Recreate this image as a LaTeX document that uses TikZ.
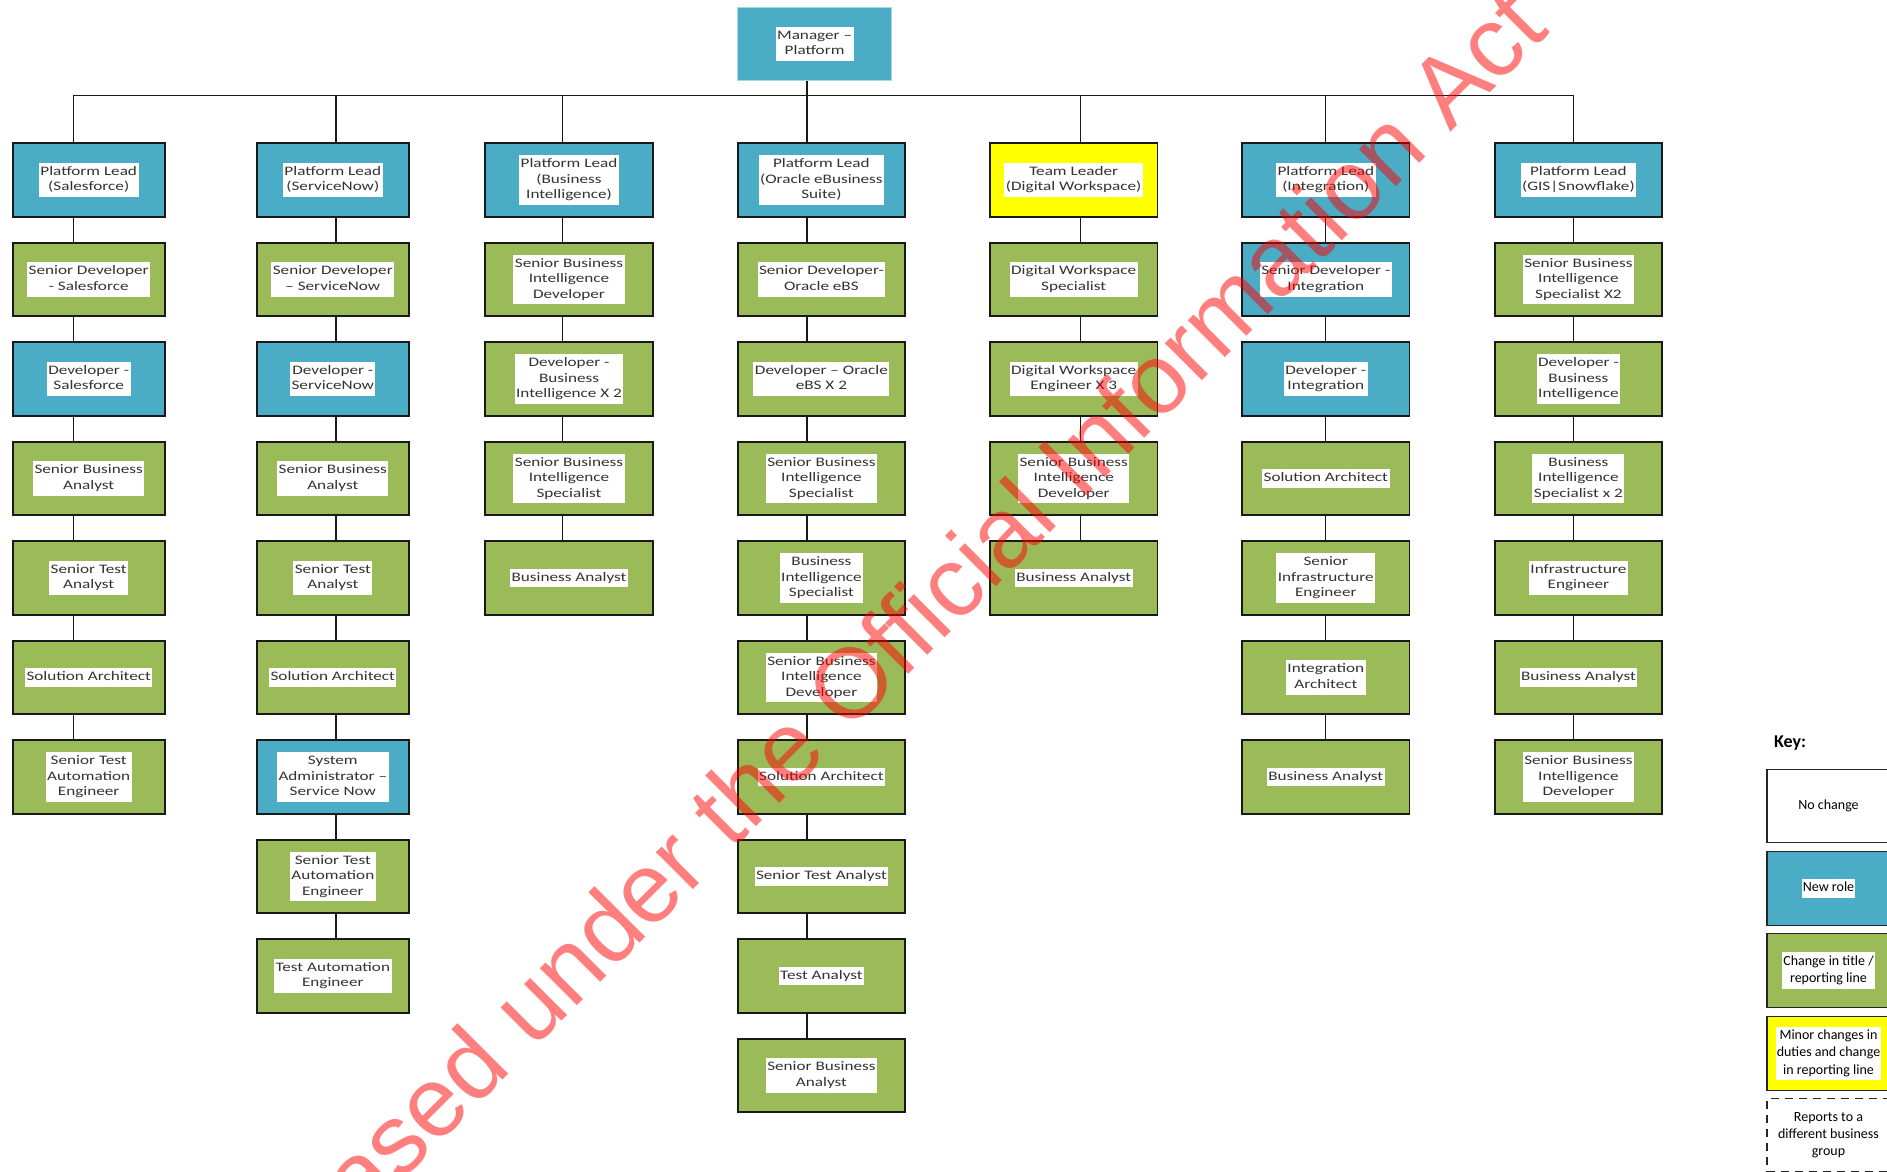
\documentclass[tikz,border=0pt]{standalone}
\usepackage{fontspec}
\setmainfont{Carlito}
\newfontfamily\boxfont{Carlito}[FakeStretch=1.32]
\newfontfamily\markfont{Liberation Sans}

\definecolor{roleblue}{HTML}{4BACC6}
\definecolor{rolegreen}{HTML}{9BBB59}
\definecolor{roleyellow}{HTML}{FFFF00}
\definecolor{mgrrim}{HTML}{A8D8E6}

% white label behind the text of a role box
\newcommand\boxlbl[1]{{\setlength\fboxsep{1.5pt}\colorbox{white}{\begin{tabular}{@{}c@{}}#1\end{tabular}}}}
\newcommand\keylbl[1]{{\setlength\fboxsep{1pt}\colorbox{white}{\begin{tabular}{@{}c@{}}#1\end{tabular}}}}

\tikzset{
  orgbox/.style={draw=black!90, line width=1.8pt, minimum height=73.5pt, inner sep=0pt,
    font=\boxfont\fontsize{13}{15.6}\selectfont, text=black!80},
  newrole/.style={orgbox, fill=roleblue},
  retitled/.style={orgbox, fill=rolegreen},
  minorchg/.style={orgbox, fill=roleyellow},
  narrowbox/.style={minimum width=152pt},
  widebox/.style={minimum width=167.5pt},
  link/.style={line width=1.6pt, draw=black!90},
  keybox/.style={draw=black!85, line width=1.3pt, minimum width=123pt, minimum height=73.5pt,
    inner sep=0pt, align=center, font=\fontsize{14}{17.3}\selectfont},
}

\begin{document}
\begin{tikzpicture}[x=1pt, y=-1pt]
\useasboundingbox (0,0) rectangle (1887,1172);
\fill[white] (0,0) rectangle (1887,1172);
\clip (0,0) rectangle (1887,1172);

% manager
\node[orgbox, fill=roleblue, draw=mgrrim, line width=1pt, minimum width=153.8pt, minimum height=72.7pt]
  (mgr) at (814.6,43.7) {\boxlbl{Manager –\\Platform}};

% reporting line of each column
\coordinate (xsf)  at (73.5,95.5);
\coordinate (xsn)  at (336,95.5);
\coordinate (xbi)  at (562.5,95.5);
\coordinate (xor)  at (807,95.5);
\coordinate (xdw)  at (1080.6,95.5);
\coordinate (xin)  at (1325.4,95.5);
\coordinate (xgis) at (1573.4,95.5);

% Salesforce
\node[newrole, narrowbox]  (sf1) at (88.7,180)   {\boxlbl{Platform Lead\\(Salesforce)}};
\node[retitled, narrowbox] (sf2) at (88.7,279.5) {\boxlbl{Senior Developer\\- Salesforce}};
\node[newrole, narrowbox]  (sf3) at (88.7,379)   {\boxlbl{Developer -\\Salesforce}};
\node[retitled, narrowbox] (sf4) at (88.7,478.5) {\boxlbl{Senior Business\\Analyst}};
\node[retitled, narrowbox] (sf5) at (88.7,578)   {\boxlbl{Senior Test\\Analyst}};
\node[retitled, narrowbox] (sf6) at (88.7,677.5) {\boxlbl{Solution Architect}};
\node[retitled, narrowbox] (sf7) at (88.7,777)   {\boxlbl{Senior Test\\Automation\\Engineer}};

% ServiceNow
\node[newrole, narrowbox]  (sn1) at (332.8,180)   {\boxlbl{Platform Lead\\(ServiceNow)}};
\node[retitled, narrowbox] (sn2) at (332.8,279.5) {\boxlbl{Senior Developer\\– ServiceNow}};
\node[newrole, narrowbox]  (sn3) at (332.8,379)   {\boxlbl{Developer -\\ServiceNow}};
\node[retitled, narrowbox] (sn4) at (332.8,478.5) {\boxlbl{Senior Business\\Analyst}};
\node[retitled, narrowbox] (sn5) at (332.8,578)   {\boxlbl{Senior Test\\Analyst}};
\node[retitled, narrowbox] (sn6) at (332.8,677.5) {\boxlbl{Solution Architect}};
\node[newrole, narrowbox]  (sn7) at (332.8,777)   {\boxlbl{System\\Administrator –\\Service Now}};
\node[retitled, narrowbox] (sn8) at (332.8,876.5) {\boxlbl{Senior Test\\Automation\\Engineer}};
\node[retitled, narrowbox] (sn9) at (332.8,976)   {\boxlbl{Test Automation\\Engineer}};

% Business Intelligence
\node[newrole, widebox]  (bi1) at (569,180)   {\boxlbl{Platform Lead\\(Business\\Intelligence)}};
\node[retitled, widebox] (bi2) at (569,279.5) {\boxlbl{Senior Business\\Intelligence\\Developer}};
\node[retitled, widebox] (bi3) at (569,379)   {\boxlbl{Developer -\\Business\\Intelligence X 2}};
\node[retitled, widebox] (bi4) at (569,478.5) {\boxlbl{Senior Business\\Intelligence\\Specialist}};
\node[retitled, widebox] (bi5) at (569,578)   {\boxlbl{Business Analyst}};

% Oracle eBusiness Suite
\node[newrole, widebox]  (or1)  at (821.4,180)    {\boxlbl{Platform Lead\\(Oracle eBusiness\\Suite)}};
\node[retitled, widebox] (or2)  at (821.4,279.5)  {\boxlbl{Senior Developer-\\Oracle eBS}};
\node[retitled, widebox] (or3)  at (821.4,379)    {\boxlbl{Developer – Oracle\\eBS X 2}};
\node[retitled, widebox] (or4)  at (821.4,478.5)  {\boxlbl{Senior Business\\Intelligence\\Specialist}};
\node[retitled, widebox] (or5)  at (821.4,578)    {\boxlbl{Business\\Intelligence\\Specialist}};
\node[retitled, widebox] (or6)  at (821.4,677.5)  {\boxlbl{Senior Business\\Intelligence\\Developer}};
\node[retitled, widebox] (or7)  at (821.4,777)    {\boxlbl{Solution Architect}};
\node[retitled, widebox] (or8)  at (821.4,876.5)  {\boxlbl{Senior Test Analyst}};
\node[retitled, widebox] (or9)  at (821.4,976)    {\boxlbl{Test Analyst}};
\node[retitled, widebox] (or10) at (821.4,1075.5) {\boxlbl{Senior Business\\Analyst}};

% Digital Workspace
\node[minorchg, widebox] (dw1) at (1073.7,180)   {\boxlbl{Team Leader\\(Digital Workspace)}};
\node[retitled, widebox] (dw2) at (1073.7,279.5) {\boxlbl{Digital Workspace\\Specialist}};
\node[retitled, widebox] (dw3) at (1073.7,379)   {\boxlbl{Digital Workspace\\Engineer X 3}};
\node[retitled, widebox] (dw4) at (1073.7,478.5) {\boxlbl{Senior Business\\Intelligence\\Developer}};
\node[retitled, widebox] (dw5) at (1073.7,578)   {\boxlbl{Business Analyst}};

% Integration
\node[newrole, widebox]  (in1) at (1325.8,180)   {\boxlbl{Platform Lead\\(Integration)}};
\node[newrole, widebox]  (in2) at (1325.8,279.5) {\boxlbl{Senior Developer -\\Integration}};
\node[newrole, widebox]  (in3) at (1325.8,379)   {\boxlbl{Developer -\\Integration}};
\node[retitled, widebox] (in4) at (1325.8,478.5) {\boxlbl{Solution Architect}};
\node[retitled, widebox] (in5) at (1325.8,578)   {\boxlbl{Senior\\Infrastructure\\Engineer}};
\node[retitled, widebox] (in6) at (1325.8,677.5) {\boxlbl{Integration\\Architect}};
\node[retitled, widebox] (in7) at (1325.8,777)   {\boxlbl{Business Analyst}};

% GIS | Snowflake
\node[newrole, widebox]  (gis1) at (1578.4,180)   {\boxlbl{Platform Lead\\(GIS|Snowflake)}};
\node[retitled, widebox] (gis2) at (1578.4,279.5) {\boxlbl{Senior Business\\Intelligence\\Specialist X2}};
\node[retitled, widebox] (gis3) at (1578.4,379)   {\boxlbl{Developer -\\Business\\Intelligence}};
\node[retitled, widebox] (gis4) at (1578.4,478.5) {\boxlbl{Business\\Intelligence\\Specialist x 2}};
\node[retitled, widebox] (gis5) at (1578.4,578)   {\boxlbl{Infrastructure\\Engineer}};
\node[retitled, widebox] (gis6) at (1578.4,677.5) {\boxlbl{Business Analyst}};
\node[retitled, widebox] (gis7) at (1578.4,777)   {\boxlbl{Senior Business\\Intelligence\\Developer}};

% bus from the manager to the column heads
\draw[link] (mgr.south -| xor) -- (xor);
\draw[link] (sf1.north -| xsf) -- (xsf) -- (xgis) -- (gis1.north -| xgis);
\draw[link] (xsn) -- (sn1.north -| xsn);
\draw[link] (xbi) -- (bi1.north -| xbi);
\draw[link] (xor) -- (or1.north -| xor);
\draw[link] (xdw) -- (dw1.north -| xdw);
\draw[link] (xin) -- (in1.north -| xin);

% chains inside each column
\foreach \j [count=\i] in {2,...,7}  {\draw[link] (sf\i.south -| xsf) -- (sf\j.north -| xsf);}
\foreach \j [count=\i] in {2,...,9}  {\draw[link] (sn\i.south -| xsn) -- (sn\j.north -| xsn);}
\foreach \j [count=\i] in {2,...,5}  {\draw[link] (bi\i.south -| xbi) -- (bi\j.north -| xbi);}
\foreach \j [count=\i] in {2,...,10} {\draw[link] (or\i.south -| xor) -- (or\j.north -| xor);}
\foreach \j [count=\i] in {2,...,5}  {\draw[link] (dw\i.south -| xdw) -- (dw\j.north -| xdw);}
\foreach \j [count=\i] in {2,...,7}  {\draw[link] (in\i.south -| xin) -- (in\j.north -| xin);}
\foreach \j [count=\i] in {2,...,7}  {\draw[link] (gis\i.south -| xgis) -- (gis\j.north -| xgis);}

% legend
\node[anchor=west, inner sep=0pt, font=\bfseries\fontsize{18}{20}\selectfont] (keyhead) at (1774,743) {Key:};
\node[keybox, fill=white]      (k1) at (1828.5,806)    {No change};
\node[keybox, fill=roleblue]   (k2) at (1828.5,888.5)  {\keylbl{New role}};
\node[keybox, fill=rolegreen]  (k3) at (1828.5,970.5)  {\keylbl{Change in title /\\reporting line}};
\node[keybox, fill=roleyellow] (k4) at (1828.5,1053.5) {\keylbl{Minor changes in\\duties and change\\in reporting line}};
\node[keybox, fill=white, dash pattern=on 8pt off 6pt] (k5) at (1828.5,1135) {Reports to a\\different business\\group};

% release stamp across the chart
\node[rotate=45, anchor=base west, inner sep=0pt, text=red, text opacity=0.5,
  font=\markfont\fontsize{99}{99}\selectfont] (stamp) at (218,1365)
  {Released under the Official Information Act};
\end{tikzpicture}
\end{document}
